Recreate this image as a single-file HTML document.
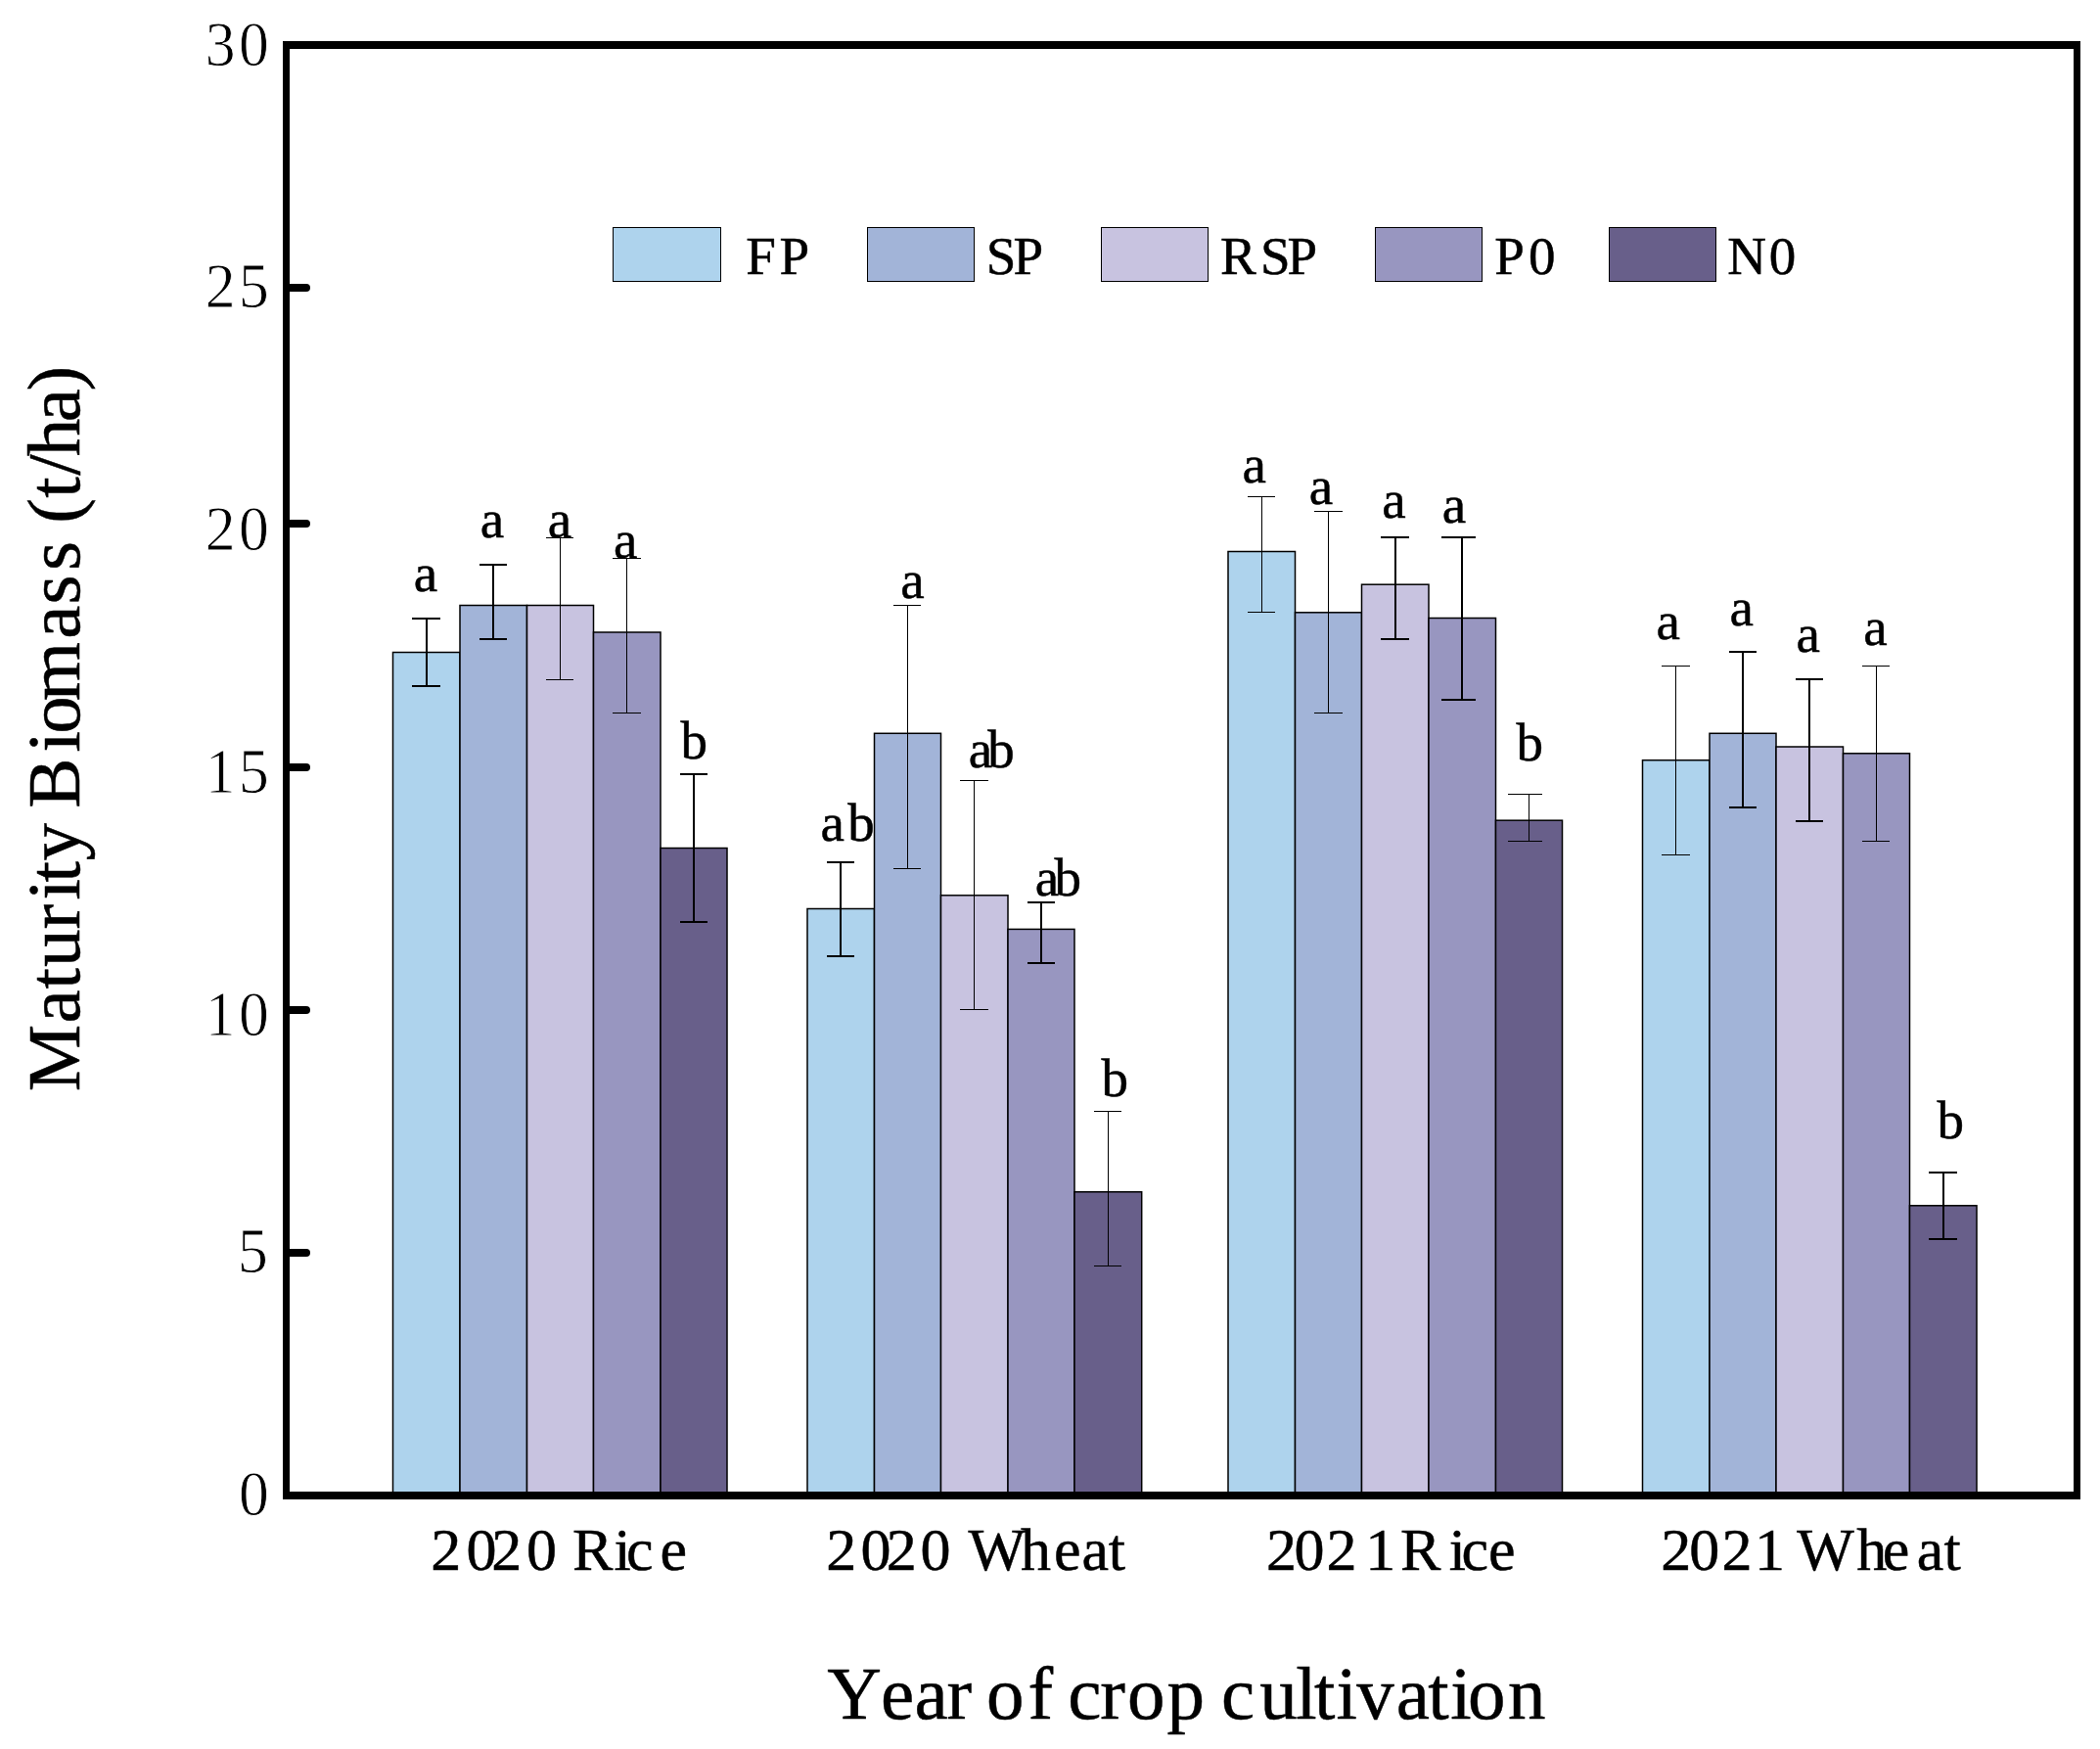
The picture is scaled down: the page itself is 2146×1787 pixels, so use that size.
<!DOCTYPE html>
<html lang="en"><head><meta charset="utf-8"><title>Maturity Biomass</title>
<style>html,body{margin:0;padding:0;background:#fff}svg{display:block}text{font-family:"Liberation Serif",serif;fill:#000}.c{shape-rendering:crispEdges}.b{stroke:#000;stroke-width:0.5px}</style></head><body>
<svg width="2146" height="1787" viewBox="0 0 2146 1787">
<rect width="2146" height="1787" fill="#fff"/>
<g stroke="#000" stroke-width="1.5">
<rect x="401.5" y="666.5" width="68.5" height="859.5" fill="#AED3ED"/>
<rect x="470" y="618.5" width="68.5" height="907.5" fill="#A2B4D8"/>
<rect x="538.5" y="618.5" width="68.0" height="907.5" fill="#C8C3E0"/>
<rect x="606.5" y="646" width="68.5" height="880.0" fill="#9896C0"/>
<rect x="675" y="866.5" width="68.0" height="659.5" fill="#685F8A"/>
<rect x="825" y="928.5" width="68.5" height="597.5" fill="#AED3ED"/>
<rect x="893.5" y="749.3" width="68.0" height="776.7" fill="#A2B4D8"/>
<rect x="961.5" y="914.8" width="68.5" height="611.2" fill="#C8C3E0"/>
<rect x="1030" y="949.4" width="68.0" height="576.6" fill="#9896C0"/>
<rect x="1098" y="1217.8" width="68.7" height="308.2" fill="#685F8A"/>
<rect x="1255" y="563.5" width="68.5" height="962.5" fill="#AED3ED"/>
<rect x="1323.5" y="625.8" width="68.0" height="900.2" fill="#A2B4D8"/>
<rect x="1391.5" y="597.2" width="68.5" height="928.8" fill="#C8C3E0"/>
<rect x="1460" y="631.5" width="68.5" height="894.5" fill="#9896C0"/>
<rect x="1528.5" y="838.2" width="68.0" height="687.8" fill="#685F8A"/>
<rect x="1678.5" y="776.7" width="68.5" height="749.3" fill="#AED3ED"/>
<rect x="1747" y="749.3" width="68.0" height="776.7" fill="#A2B4D8"/>
<rect x="1815" y="763" width="68.5" height="763.0" fill="#C8C3E0"/>
<rect x="1883.5" y="769.8" width="68.0" height="756.2" fill="#9896C0"/>
<rect x="1951.5" y="1231.8" width="68.5" height="294.2" fill="#685F8A"/>
</g>
<g class="c" stroke="#000" fill="none">
<path d="M421 632H450M421 701H450M436 632V701" stroke-width="2"/>
<path d="M490 577H518M490 653H518M504 577V653" stroke-width="2"/>
<path d="M558 549.5H586M558 694H586M572 549.5V694" stroke-width="1"/>
<path d="M626 570.5H655M626 728.5H655M640 570.5V728.5" stroke-width="1"/>
<path d="M695 791H723M695 942H723M709 791V942" stroke-width="2"/>
<path d="M845 880.5H873M845 977H873M859 880.5V977" stroke-width="2"/>
<path d="M913 618.5H941M913 887.5H941M927.5 618.5V887.5" stroke-width="1"/>
<path d="M981 797.5H1010M981 1031.5H1010M995.5 797.5V1031.5" stroke-width="1"/>
<path d="M1050 921.5H1078M1050 983.5H1078M1064 921.5V983.5" stroke-width="2"/>
<path d="M1118 1135.5H1146M1118 1293.5H1146M1132.5 1135.5V1293.5" stroke-width="1"/>
<path d="M1275 507.5H1303M1275 625.5H1303M1289.5 507.5V625.5" stroke-width="1"/>
<path d="M1343 522.5H1372M1343 728.5H1372M1357.5 522.5V728.5" stroke-width="1"/>
<path d="M1411 549H1440M1411 653H1440M1426 549V653" stroke-width="2"/>
<path d="M1473 549H1508M1473 715H1508M1494 549V715" stroke-width="2"/>
<path d="M1541 811.5H1576M1541 859.5H1576M1562.5 811.5V859.5" stroke-width="1"/>
<path d="M1698 680.5H1727M1698 873.5H1727M1712.5 680.5V873.5" stroke-width="1"/>
<path d="M1767 666H1795M1767 825H1795M1781 666V825" stroke-width="2"/>
<path d="M1835 694H1863M1835 839H1863M1849 694V839" stroke-width="2"/>
<path d="M1903 680.5H1931M1903 859.5H1931M1917.5 680.5V859.5" stroke-width="1"/>
<path d="M1971 1197.5H2000M1971 1266H2000M1986 1197.5V1266" stroke-width="2"/>
</g>
<g class="b" font-size="55">
<text x="422.7" y="604.1">a</text>
<text x="490.7" y="549.3">a</text>
<text x="559.7" y="549.1">a</text>
<text x="627.1" y="569.6">a</text>
<text x="695.5" y="775.1">b</text>
<text x="838.5 866.3" y="859.1">ab</text>
<text x="920.2" y="610.8">a</text>
<text x="989.8 1009.3" y="784.1">ab</text>
<text x="1057.7 1077.4" y="914.8">ab</text>
<text x="1125.4" y="1120.0">b</text>
<text x="1269.4" y="493.0">a</text>
<text x="1337.7" y="515.1">a</text>
<text x="1412.2" y="528.5">a</text>
<text x="1473.7" y="534.2">a</text>
<text x="1549.6" y="776.6">b</text>
<text x="1692.6" y="652.5">a</text>
<text x="1767.6" y="638.5">a</text>
<text x="1835.5" y="665.9">a</text>
<text x="1904.2" y="659.3">a</text>
<text x="1979.5" y="1162.8">b</text>
</g>
<g class="c" fill="#000">
<rect x="289" y="42" width="1837" height="8"/>
<rect x="289" y="1524" width="1837" height="8"/>
<rect x="289" y="42" width="7" height="1490"/>
<rect x="2119" y="42" width="7" height="1490"/>
</g>
<g stroke="#000" stroke-width="8" stroke-linecap="round">
<line x1="293" y1="294" x2="313" y2="294"/>
<line x1="293" y1="535" x2="313" y2="535"/>
<line x1="293" y1="784" x2="313" y2="784"/>
<line x1="293" y1="1032" x2="313" y2="1032"/>
<line x1="293" y1="1280" x2="313" y2="1280"/>
</g>
<g font-size="66.5" stroke="#fff" stroke-width="0.8">
<text transform="translate(209.75 66.6) scale(0.926 1)" x="0 36.94" y="0">30</text>
<text transform="translate(209.75 314.4) scale(0.926 1)" x="0 36.94" y="0">25</text>
<text transform="translate(209.75 562.1) scale(0.926 1)" x="0 36.94" y="0">20</text>
<text transform="translate(209.75 810.4) scale(0.926 1)" x="0 36.94" y="0">15</text>
<text transform="translate(209.75 1058.4) scale(0.926 1)" x="0 36.94" y="0">10</text>
<text transform="translate(243.0 1300.4) scale(0.926 1)" x="0" y="0">5</text>
<text transform="translate(243.96 1548.4) scale(0.926 1)" x="0" y="0">0</text>
</g>
<g class="b" font-size="62">
<text x="440.2 476.6 502.3 538.0 556.6 585.1 627.5 640.1 674.4" y="1603.6">2020 Rice</text>
<text x="844.3 879.4 905.8 940.6 959.2 989.4 1043.1 1077.0 1105.5 1132.8" y="1603.6">2020 Wheat</text>
<text x="1294.0 1322.6 1355.5 1395.3 1413.9 1430.9 1480.8 1493.5 1521.0" y="1603.6">2021 Rice</text>
<text x="1697.2 1726.2 1759.6 1792.9 1811.5 1836.2 1897.2 1923.7 1958.7 1986.4" y="1603.6">2021 Wheat</text>
</g>
<text x="845.3 900.0 934.5 967.5 990.6 1008.1 1050.5 1073.6 1091.3 1124.3 1151.9 1192.6 1215.7 1248.0 1287.2 1324.2 1343.0 1365.6 1386.3 1426.8 1459.2 1482.2 1500.0 1541.1" y="1755.8" class="b" font-size="77">Year of crop cultivation</text>
<text transform="translate(81 0) rotate(-90)" x="-1115.2 -1045.6 -1010.5 -988.1 -949.4 -919.5 -901.5 -879.5 -856.4 -825.8 -768.5 -749.8 -715.9 -652.7 -617.5 -582.9 -559.8 -534.8 -508.7 -485.7 -466.2 -431.3 -399.4" y="0" class="b" font-size="77">Maturity Biomass (t/ha)</text>
<g class="c">
<rect x="626.5" y="232.5" width="110" height="55" fill="#AED3ED" stroke="#000" stroke-width="1"/>
<rect x="886.5" y="232.5" width="109" height="55" fill="#A2B4D8" stroke="#000" stroke-width="1"/>
<rect x="1125.5" y="232.5" width="109" height="55" fill="#C8C3E0" stroke="#000" stroke-width="1"/>
<rect x="1405.5" y="232.5" width="109" height="55" fill="#9896C0" stroke="#000" stroke-width="1"/>
<rect x="1644.5" y="232.5" width="109" height="55" fill="#685F8A" stroke="#000" stroke-width="1"/>
</g>
<g class="b" font-size="55">
<text x="762.3 796.4" y="280.2">FP</text>
<text x="1007.7 1035.4" y="280.2">SP</text>
<text x="1247 1288.1 1315.5" y="280.2">RSP</text>
<text x="1527.2 1561.9" y="280.2">P0</text>
<text x="1765.3 1807.7" y="280.2">N0</text>
</g>
</svg></body></html>
